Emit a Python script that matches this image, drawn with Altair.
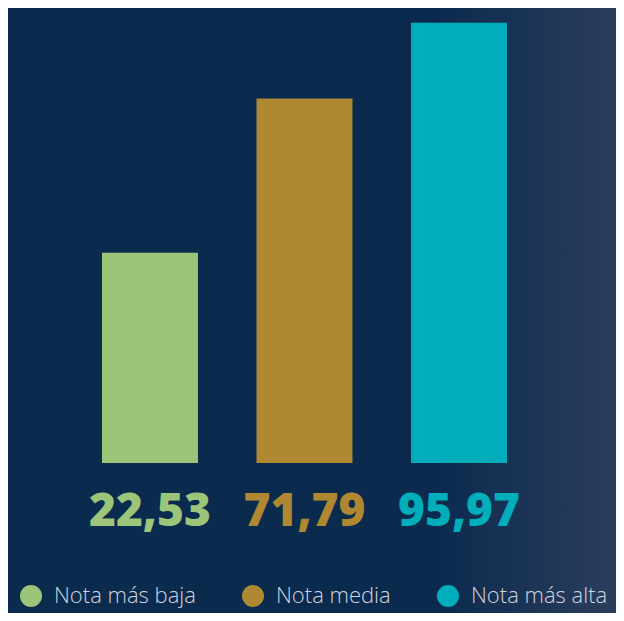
import altair as alt
import pandas as pd

categories = ["Nota más baja", "Nota media", "Nota más alta"]
values = [22.53, 71.79, 95.97]
colors = ["#9dc57a", "#b08831", "#00adbb"]

df = pd.DataFrame({"cat": categories, "value": values})

BG = "#0b2b4e"
BASE = -44.57

xenc = alt.X("cat:N", sort=categories,
             scale=alt.Scale(paddingInner=0.379, paddingOuter=0.657, align=0.463),
             axis=None)
color_scale = alt.Scale(domain=categories, range=colors)

grad = alt.Chart(alt.Data(values=[{"a": 1}])).mark_rect(
    color=alt.Gradient(gradient="linear", x1=0, x2=1, y1=0, y2=0,
                       stops=[alt.GradientStop(color=BG, offset=0),
                              alt.GradientStop(color="#2d3e5d", offset=1)])
).encode(x=alt.value(432), x2=alt.value(616), y=alt.value(0), y2=alt.value(605))

bars = alt.Chart(df).mark_bar().encode(
    x=xenc,
    y=alt.Y("value:Q", scale=alt.Scale(domain=[-92.47, 100.70], zero=False, nice=False), axis=None),
    y2=alt.datum(BASE),
    color=alt.Color("cat:N", scale=color_scale, sort=categories,
                    legend=alt.Legend(orient="none", legendX=12, legendY=577,
                                      direction="horizontal", columns=3, title=None,
                                      symbolType="circle", symbolSize=484,
                                      symbolStrokeWidth=0, symbolOpacity=1,
                                      labelFontSize=22, labelColor="#d0d5de",
                                      labelFont="Open Sans", labelFontWeight=300,
                                      columnPadding=46, labelOffset=12, padding=0,
                                      labelLimit=300)),
)

labels = alt.Chart(df).transform_calculate(
    label="replace(format(datum.value, '.2f'), '.', ',')"
).mark_text(fontSize=46, fontWeight=800, font="Open Sans", baseline="middle").encode(
    x=xenc,
    y=alt.value(504),
    text="label:N",
    color=alt.Color("cat:N", scale=color_scale, sort=categories, legend=None),
)

chart = alt.layer(grad, bars, labels).properties(
    width=608, height=605, padding=0,
    autosize=alt.AutoSizeParams(type="none"),
    background=BG,
).configure_view(stroke=None)

chart.save("out.html", embed_options={"renderer": "svg", "actions": False})
